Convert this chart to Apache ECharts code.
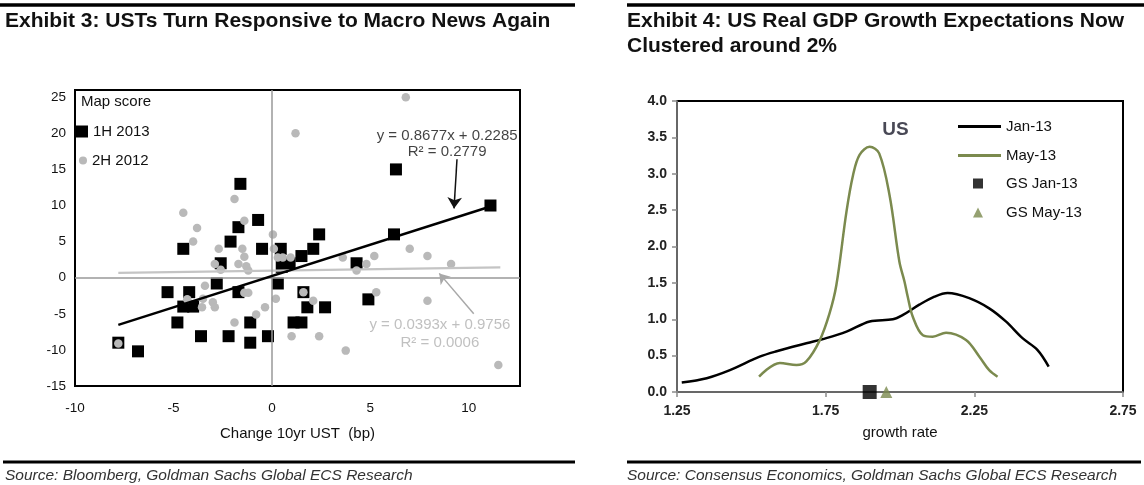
<!DOCTYPE html>
<html><head><meta charset="utf-8">
<script src="https://cdn.jsdelivr.net/npm/echarts@6/dist/echarts.min.js"></script>
<style>html,body{margin:0;padding:0;background:#fff}#c{width:1144px;height:485px}</style>
</head><body><div id="c"></div>
<script>
// ---------- Exhibit 3 data ----------
const series1H2013 = [
  [-7.8,-9.0],[-6.8,-10.2],[-5.3,-2.0],[-4.8,-6.2],[-4.5,4.0],[-4.5,-4.0],[-4.0,-4.0],
  [-4.2,-2.0],[-3.6,-8.1],[-2.8,-0.8],[-2.6,2.0],[-2.2,-8.1],[-2.1,5.0],[-1.7,7.0],
  [-1.7,-2.0],[-1.6,13.0],[-1.1,-6.2],[-1.1,-9.0],[-0.7,8.0],[-0.5,4.0],[-0.2,-8.1],
  [0.3,-0.8],[0.45,4.0],[0.5,1.5],[0.9,2.0],[1.1,-6.2],[1.5,-6.2],[1.5,3.0],[1.6,-2.0],
  [1.8,-4.1],[2.1,4.0],[2.4,6.0],[2.7,-4.1],[4.3,2.0],[4.9,-3.0],[6.2,6.0],[6.3,15.0],[11.1,10.0]
];
const series2H2012 = [
  [-7.8,-9.1],[-4.5,9.0],[-4.3,-3.0],[-4.0,5.0],[-3.8,6.9],[-3.55,-4.1],[-3.5,-2.9],
  [-3.4,-1.1],[-3.0,-3.4],[-2.9,-4.1],[-2.9,1.9],[-2.7,4.0],[-2.6,1.1],[-1.9,10.9],
  [-1.9,-6.2],[-1.7,1.9],[-1.5,4.0],[-1.4,7.9],[-1.4,2.9],[-1.4,-2.1],[-1.3,1.6],
  [-1.2,1.0],[-1.2,-2.1],[-0.8,-5.1],[-0.35,-4.1],[0.05,6.0],[0.1,4.0],[0.2,-2.9],
  [0.3,2.8],[0.55,2.8],[0.95,2.8],[1.0,-8.1],[1.2,20.0],[1.6,-2.0],[2.1,-3.2],[2.4,-8.1],
  [3.6,2.8],[3.75,-10.1],[4.3,1.0],[4.8,1.9],[5.2,3.0],[5.3,-2.0],[6.8,25.0],[7.0,4.0],
  [7.9,3.0],[7.9,-3.2],[9.1,1.9],[11.5,-12.1]
];
const trend1H2013 = [[-7.8,-6.54],[11.1,9.86]];
const trend2H2012 = [[-7.8,0.67],[11.6,1.43]];
const eq1H2013 = ['y = 0.8677x + 0.2285','R² = 0.2779'];
const eq2H2012 = ['y = 0.0393x + 0.9756','R² = 0.0006'];

// ---------- Exhibit 4 data ----------
const growthJan13 = [
  [1.266,0.13],[1.35,0.19],[1.428,0.30],[1.528,0.485],[1.585,0.56],[1.685,0.67],[1.752,0.74],
  [1.82,0.83],[1.898,0.97],[1.976,1.00],[2.01,1.06],[2.065,1.20],[2.116,1.31],[2.16,1.36],
  [2.233,1.29],[2.30,1.15],[2.356,0.97],[2.412,0.74],[2.462,0.58],[2.50,0.35]
];
const growthMay13 = [
  [1.526,0.21],[1.596,0.40],[1.652,0.37],[1.685,0.42],[1.73,0.71],[1.763,1.08],[1.786,1.47],
  [1.82,2.48],[1.842,2.98],[1.864,3.26],[1.898,3.37],[1.93,3.28],[1.965,2.70],[1.998,1.79],
  [2.015,1.52],[2.026,1.31],[2.043,1.035],[2.077,0.78],[2.11,0.76],[2.155,0.815],[2.222,0.715],
  [2.267,0.485],[2.30,0.30],[2.328,0.21]
];
const gsJan13 = [[1.898,0]];
const gsMay13 = [[1.954,0]];

const FONT = '"Liberation Sans", Arial, sans-serif';
const OLIVE = '#7b8a4e';
const GRAY = '#b9b9b9';
const fmt5 = v => (Math.abs(v % 5) < 1e-9 ? String(v) : '');

const chart = echarts.init(document.getElementById('c'));
chart.setOption({
  animation: false,
  textStyle: {fontFamily: FONT},
  title: [
    {text: 'Exhibit 3: USTs Turn Responsive to Macro News Again', left: 5, top: 11, padding: 0,
     textStyle: {fontFamily: FONT, fontSize: 21, fontWeight: 'bold', color: '#111'}},
    {text: 'Exhibit 4: US Real GDP Growth Expectations Now\nClustered around 2%', left: 627, top: 9, padding: 0,
     textStyle: {fontFamily: FONT, fontSize: 21, fontWeight: 'bold', color: '#111', lineHeight: 25}},
    {text: 'Source: Bloomberg, Goldman Sachs Global ECS Research', left: 5, top: 468, padding: 0,
     textStyle: {fontFamily: FONT, fontSize: 15.5, fontStyle: 'italic', fontWeight: 'normal', color: '#333'}},
    {text: 'Source: Consensus Economics, Goldman Sachs Global ECS Research', left: 627, top: 468, padding: 0,
     textStyle: {fontFamily: FONT, fontSize: 15.5, fontStyle: 'italic', fontWeight: 'normal', color: '#333'}},
    {text: 'Map score', left: 81, top: 94, padding: 0,
     textStyle: {fontFamily: FONT, fontSize: 15, fontWeight: 'normal', color: '#111'}}
  ],
  graphic: [
    {type: 'line', shape: {x1: 0, y1: 5, x2: 575, y2: 5}, style: {stroke: '#000', lineWidth: 3.5}},
    {type: 'line', shape: {x1: 627, y1: 5, x2: 1144, y2: 5}, style: {stroke: '#000', lineWidth: 3.5}},
    {type: 'line', shape: {x1: 3, y1: 462, x2: 575, y2: 462}, style: {stroke: '#000', lineWidth: 3}},
    {type: 'line', shape: {x1: 627, y1: 462, x2: 1141, y2: 462}, style: {stroke: '#000', lineWidth: 3}}
  ],
  legend: [
    {data: ['1H 2013'], left: 76, top: 124, padding: 0, icon: 'rect', itemWidth: 12, itemHeight: 12,
     textStyle: {fontSize: 15, color: '#111', fontFamily: FONT}},
    {data: ['2H 2012'], left: 79, top: 153, padding: 0, icon: 'circle', itemWidth: 8, itemHeight: 8,
     textStyle: {fontSize: 15, color: '#111', fontFamily: FONT}},
    {data: ['Jan-13', 'May-13'], orient: 'vertical', left: 958, top: 119, padding: 0, icon: 'rect',
     itemWidth: 43, itemHeight: 3, itemGap: 14,
     textStyle: {fontSize: 15, color: '#111', fontFamily: FONT, lineHeight: 14}},
    {data: ['GS Jan-13', 'GS May-13'], orient: 'vertical', left: 973, top: 176, padding: 0,
     itemWidth: 10, itemHeight: 10, itemGap: 14,
     textStyle: {fontSize: 15, color: '#111', fontFamily: FONT, lineHeight: 14, padding: [0,0,0,18]}}
  ],
  grid: [
    {left: 75, top: 90, width: 445, height: 296, show: true, borderColor: '#000', borderWidth: 2,
     backgroundColor: 'transparent'},
    {left: 677, top: 101, width: 446, height: 291, show: true, borderColor: '#000', borderWidth: 2,
     backgroundColor: 'transparent'}
  ],
  xAxis: [
    {type: 'value', gridIndex: 0, min: -10, max: 12.6, interval: 5, splitLine: {show: false},
     axisLine: {show: false}, axisTick: {show: false},
     axisLabel: {formatter: fmt5, fontSize: 13.5, color: '#111', margin: 15, fontFamily: FONT},
     name: 'Change 10yr UST  (bp)', nameLocation: 'middle', nameGap: 40,
     nameTextStyle: {fontSize: 15, color: '#111', fontFamily: FONT}},
    {type: 'value', gridIndex: 1, min: 1.25, max: 2.75, interval: 0.5, splitLine: {show: false},
     axisLine: {show: true, lineStyle: {color: '#8a8a8a', width: 1.5}},
     axisTick: {show: true, length: 5, lineStyle: {color: '#8a8a8a', width: 1.5}},
     axisLabel: {formatter: v => v.toFixed(2), fontSize: 14, fontWeight: 'bold', color: '#222', margin: 12, fontFamily: FONT},
     name: 'growth rate', nameLocation: 'middle', nameGap: 33,
     nameTextStyle: {fontSize: 15, color: '#111', fontFamily: FONT}}
  ],
  yAxis: [
    {type: 'value', gridIndex: 0, min: -15, max: 26, interval: 5, splitLine: {show: false},
     axisLine: {show: false}, axisTick: {show: false},
     axisLabel: {formatter: fmt5, fontSize: 13.5, color: '#111', margin: 9, fontFamily: FONT}},
    {type: 'value', gridIndex: 1, min: 0, max: 4, interval: 0.5, splitLine: {show: false},
     axisLine: {show: true, lineStyle: {color: '#8a8a8a', width: 1.5}},
     axisTick: {show: true, length: 5, lineStyle: {color: '#8a8a8a', width: 1.5}},
     axisLabel: {formatter: v => v.toFixed(1), fontSize: 14, fontWeight: 'bold', color: '#222', margin: 10, fontFamily: FONT}}
  ],
  series: [
    // zero reference lines
    {type: 'line', xAxisIndex: 0, yAxisIndex: 0, data: [], silent: true, z: 1,
     markLine: {silent: true, symbol: ['none', 'none'], label: {show: false},
       lineStyle: {color: '#999', width: 1.5, type: 'solid'},
       data: [{xAxis: 0}, {yAxis: 0}]}},
    {name: '1H 2013', type: 'scatter', xAxisIndex: 0, yAxisIndex: 0, data: series1H2013,
     symbol: 'rect', symbolSize: 12, itemStyle: {color: '#000', opacity: 1}, z: 2},
    {name: '2H 2012', type: 'scatter', xAxisIndex: 0, yAxisIndex: 0, data: series2H2012,
     symbol: 'circle', symbolSize: 8.5, itemStyle: {color: GRAY, opacity: 1}, z: 3},
    {name: 'trend 2H 2012', type: 'line', xAxisIndex: 0, yAxisIndex: 0, data: trend2H2012,
     symbol: 'none', lineStyle: {color: '#c4c4c4', width: 2.2}, z: 4},
    {name: 'trend 1H 2013', type: 'line', xAxisIndex: 0, yAxisIndex: 0, data: trend1H2013,
     symbol: 'none', lineStyle: {color: '#000', width: 2.5}, z: 5},
    // equation annotations (Exhibit 3)
    {type: 'scatter', xAxisIndex: 0, yAxisIndex: 0, symbolSize: 0, silent: true, z: 6,
     data: [[8.9, 19.6, eq1H2013[0]], [8.9, 17.5, eq1H2013[1]]],
     label: {show: true, position: 'inside', formatter: p => p.data[2], fontSize: 15, color: '#111', fontFamily: FONT}},
    {type: 'scatter', xAxisIndex: 0, yAxisIndex: 0, symbolSize: 0, silent: true, z: 6,
     data: [[8.53, -6.6, eq2H2012[0]], [8.53, -9.0, eq2H2012[1]]],
     label: {show: true, position: 'inside', formatter: p => p.data[2], fontSize: 15, color: '#b0b0b0', fontFamily: FONT}},
    // arrows
    {type: 'line', xAxisIndex: 0, yAxisIndex: 0, data: [], silent: true, z: 6,
     markLine: {silent: true, symbol: ['none', 'arrow'], symbolSize: 11, label: {show: false},
       lineStyle: {color: '#111', width: 1.5, type: 'solid'},
       data: [[{coord: [9.4, 16.4]}, {coord: [9.25, 9.6]}]]}},
    {type: 'line', xAxisIndex: 0, yAxisIndex: 0, data: [], silent: true, z: 6,
     markLine: {silent: true, symbol: ['none', 'arrow'], symbolSize: 10, label: {show: false},
       lineStyle: {color: '#a8a8a8', width: 1.5, type: 'solid'},
       data: [[{coord: [10.25, -5.0]}, {coord: [8.5, 0.6]}]]}},
    // Exhibit 4
    {name: 'Jan-13', type: 'line', xAxisIndex: 1, yAxisIndex: 1, data: growthJan13, smooth: 0.35,
     symbol: 'none', lineStyle: {color: '#000', width: 2.5}, itemStyle: {color: '#000'}, z: 3},
    {name: 'May-13', type: 'line', xAxisIndex: 1, yAxisIndex: 1, data: growthMay13, smooth: 0.35,
     symbol: 'none', lineStyle: {color: OLIVE, width: 2.5}, itemStyle: {color: OLIVE}, z: 3},
    {name: 'GS Jan-13', type: 'scatter', xAxisIndex: 1, yAxisIndex: 1, data: gsJan13,
     symbol: 'rect', symbolSize: 14, itemStyle: {color: '#000'}, z: 5},
    {name: 'GS May-13', type: 'scatter', xAxisIndex: 1, yAxisIndex: 1, data: gsMay13,
     symbol: 'triangle', symbolSize: 12, itemStyle: {color: OLIVE}, z: 5},
    {type: 'scatter', xAxisIndex: 1, yAxisIndex: 1, symbolSize: 0, silent: true,
     data: [[1.985, 3.6, 'US']],
     label: {show: true, position: 'inside', formatter: p => p.data[2], fontSize: 19, fontWeight: 'bold', color: '#1a1a2a', fontFamily: FONT}}
  ]
});
</script></body></html>
